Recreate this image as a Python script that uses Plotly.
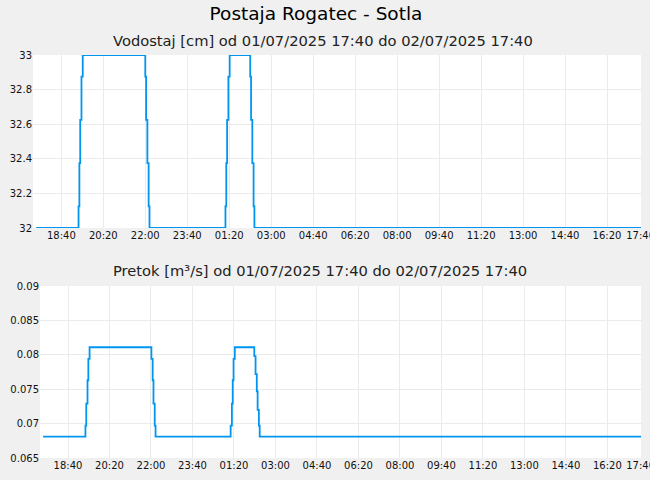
import plotly.graph_objects as go

# ---- data ----
stage_times = [
    "2025-07-01 17:40", "2025-07-01 19:21", "2025-07-01 19:23", "2025-07-01 19:25",
    "2025-07-01 19:28", "2025-07-01 19:31", "2025-07-01 22:00", "2025-07-01 22:02",
    "2025-07-01 22:05", "2025-07-01 22:08", "2025-07-01 22:10", "2025-07-02 01:11",
    "2025-07-02 01:13", "2025-07-02 01:15", "2025-07-02 01:18", "2025-07-02 01:21",
    "2025-07-02 02:10", "2025-07-02 02:12", "2025-07-02 02:15", "2025-07-02 02:18",
    "2025-07-02 02:20", "2025-07-02 17:41",
]
stage_values = [
    32, 32.125, 32.375, 32.625, 32.875, 33, 32.875, 32.625, 32.375, 32.125, 32,
    32.125, 32.375, 32.625, 32.875, 33, 32.875, 32.625, 32.375, 32.125, 32, 32,
]

flow_times = [
    "2025-07-01 17:40", "2025-07-01 19:22", "2025-07-01 19:24", "2025-07-01 19:27",
    "2025-07-01 19:29", "2025-07-01 19:32", "2025-07-01 22:01", "2025-07-01 22:04",
    "2025-07-01 22:06", "2025-07-01 22:09", "2025-07-01 22:11", "2025-07-02 01:12",
    "2025-07-02 01:15", "2025-07-02 01:17", "2025-07-02 01:19", "2025-07-02 01:22",
    "2025-07-02 02:09", "2025-07-02 02:12", "2025-07-02 02:15", "2025-07-02 02:17",
    "2025-07-02 02:20", "2025-07-02 02:22", "2025-07-02 17:41",
]
flow_values = [
    0.0681, 0.0697, 0.0729, 0.0763, 0.0794, 0.0811, 0.0794, 0.0763, 0.0729, 0.0697,
    0.0681, 0.0697, 0.0729, 0.0763, 0.0794, 0.0811, 0.0798, 0.0772, 0.0747, 0.0720,
    0.0697, 0.0681, 0.0681,
]

x_tick_vals = [
    "2025-07-01 18:40", "2025-07-01 20:20", "2025-07-01 22:00", "2025-07-01 23:40",
    "2025-07-02 01:20", "2025-07-02 03:00", "2025-07-02 04:40", "2025-07-02 06:20",
    "2025-07-02 08:00", "2025-07-02 09:40", "2025-07-02 11:20", "2025-07-02 13:00",
    "2025-07-02 14:40", "2025-07-02 16:20", "2025-07-02 17:40",
]
x_tick_text = ["18:40", "20:20", "22:00", "23:40", "01:20", "03:00", "04:40", "06:20",
               "08:00", "09:40", "11:20", "13:00", "14:40", "16:20", "17:40"]

stage_ticks = [32, 32.2, 32.4, 32.6, 32.8, 33]
stage_tick_text = ["32", "32.2", "32.4", "32.6", "32.8", "33"]
flow_ticks = [0.065, 0.07, 0.075, 0.08, 0.085, 0.09]
flow_tick_text = ["0.065", "0.07", "0.075", "0.08", "0.085", "0.09"]

title = "Postaja Rogatec - Sotla"
stage_title = "Vodostaj [cm] od 01/07/2025 17:40 do 02/07/2025 17:40"
flow_title = "Pretok [m³/s] od 01/07/2025 17:40 do 02/07/2025 17:40"

# ---- figure ----
LINE = "#0096f0"
GRID = "#ebebeb"
FONT = "DejaVu Sans"
xrange = ["2025-07-01 17:32:30", "2025-07-02 17:41"]

fig = go.Figure()
fig.add_trace(go.Scatter(x=stage_times, y=stage_values, mode="lines",
                         line=dict(color=LINE, width=1.8, shape="hv"),
                         xaxis="x", yaxis="y", hoverinfo="skip", cliponaxis=False))
fig.add_trace(go.Scatter(x=flow_times, y=flow_values, mode="lines",
                         line=dict(color=LINE, width=1.8, shape="hv"),
                         xaxis="x2", yaxis="y2", hoverinfo="skip"))

common_x = dict(type="date", range=xrange, tickmode="array", tickvals=x_tick_vals,
                ticktext=x_tick_text, showgrid=True, gridcolor=GRID, gridwidth=1,
                zeroline=False, showline=False, ticks="", automargin=False,
                ticklabeloverflow="allow",
                tickfont=dict(family=FONT, size=10, color="#111"))
common_y = dict(showgrid=True, gridcolor=GRID, gridwidth=1, zeroline=False,
                showline=False, ticks="", tickmode="array", automargin=False,
                ticklabeloverflow="allow",
                tickfont=dict(family=FONT, size=10, color="#111"))

fig.update_layout(
    width=650, height=480,
    margin=dict(l=0, r=0, t=0, b=0, autoexpand=False),
    paper_bgcolor="#f0f0f0", plot_bgcolor="#ffffff",
    showlegend=False,
    font=dict(family=FONT, color="#111"),
    title=dict(text=title, x=316 / 650, xanchor="center", y=1 - 14 / 480, yanchor="middle",
               automargin=False,
               font=dict(family=FONT, size=18.5, color="#000")),
    xaxis=dict(domain=[33 / 650, 641 / 650], anchor="y", **common_x),
    yaxis=dict(domain=[1 - 228 / 480, 1 - 55 / 480], anchor="x", range=[32, 33],
               tickvals=stage_ticks, ticktext=stage_tick_text, **common_y),
    xaxis2=dict(domain=[40 / 650, 641 / 650], anchor="y2", **common_x),
    yaxis2=dict(domain=[22 / 480, 1 - 286 / 480], anchor="x2", range=[0.065, 0.09],
                tickvals=flow_ticks, ticktext=flow_tick_text, **common_y),
    annotations=[
        dict(text=stage_title, x=323 / 650, y=1 - 40 / 480, xref="paper", yref="paper",
             xanchor="center", yanchor="middle", showarrow=False,
             font=dict(family=FONT, size=14.7, color="#222")),
        dict(text=flow_title, x=320 / 650, y=1 - 270 / 480, xref="paper", yref="paper",
             xanchor="center", yanchor="middle", showarrow=False,
             font=dict(family=FONT, size=14.7, color="#222")),
    ],
)

fig.write_html(
    "out.html",
    config={"displayModeBar": False, "staticPlot": True},
    post_script="document.body.style.margin='0';document.body.style.overflow='hidden';",
)
